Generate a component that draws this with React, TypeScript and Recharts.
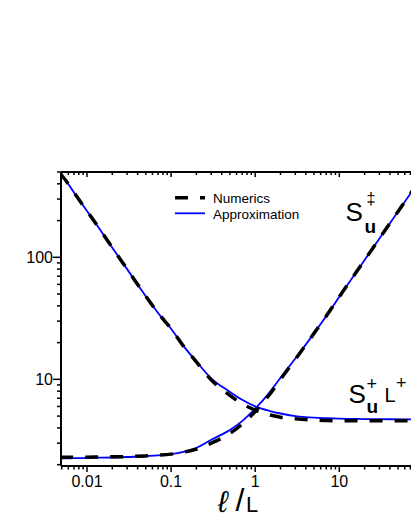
import { LineChart, Line, XAxis, YAxis } from 'recharts';

// values
const xs = [0.0048, 0.0052, 0.007, 0.01, 0.014, 0.02, 0.03, 0.05, 0.07, 0.1, 0.14, 0.2, 0.3, 0.5, 0.7, 1, 1.5, 2, 3, 5, 7, 10, 20, 40, 75];
const approxDown = [485, 455, 340, 240, 172, 120, 80, 48, 35, 26, 18.8, 14, 10.2, 7.9, 6.8, 6.0, 5.5, 5.25, 5.0, 4.85, 4.8, 4.76, 4.73, 4.71, 4.7];
const numericsDown = [485, 455, 340, 240, 172, 120, 80, 48, 35, 26, 18.8, 13.9, 9.9, 7.4, 6.3, 5.6, 5.1, 4.9, 4.75, 4.63, 4.6, 4.58, 4.57, 4.57, 4.57];
const approxUp = [2.25, 2.25, 2.26, 2.27, 2.28, 2.29, 2.31, 2.35, 2.38, 2.44, 2.55, 2.75, 3.2, 3.85, 4.55, 5.75, 7.9, 10.3, 14.8, 23.8, 33, 47.5, 95, 190, 356];
const numericsUp = [2.3, 2.3, 2.3, 2.3, 2.31, 2.32, 2.33, 2.36, 2.39, 2.44, 2.53, 2.68, 3.0, 3.6, 4.3, 5.45, 7.6, 10.0, 14.6, 23.8, 33, 47.5, 95, 190, 356];

const xTicks = [0.005, 0.006, 0.007, 0.008, 0.009, 0.01, 0.02, 0.03, 0.04, 0.05, 0.06, 0.07, 0.08, 0.09, 0.1, 0.2, 0.3, 0.4, 0.5, 0.6, 0.7, 0.8, 0.9, 1, 2, 3, 4, 5, 6, 7, 8, 9, 10, 20, 30, 40, 50, 60, 70];
const xMajor = [0.01, 0.1, 1, 10];
const yTicks = [2, 3, 4, 5, 6, 7, 8, 9, 10, 20, 30, 40, 50, 60, 70, 80, 90, 100, 200, 300, 400, 500];
const yMajor = [10, 100];

const rows = xs.map((x, i) => ({
  x,
  aDown: approxDown[i],
  nDown: numericsDown[i],
  aUp: approxUp[i],
  nUp: numericsUp[i],
}));

const font = '"Liberation Sans", Arial, sans-serif';
const BLUE = '#0000ff';
const DASH = '13 12';

function YTick(props: any) {
  const { x, y, payload } = props;
  const major = yMajor.includes(payload.value);
  const len = major ? 8 : 4;
  return (
    <g>
      <line x1={x} x2={x - len} y1={y} y2={y} stroke="#000" strokeWidth={1.5} />
      {major && (
        <text x={x - len} y={y} dy="0.36em" textAnchor="end" fontSize={16} fontFamily={font} fill="#000">
          {payload.value}
        </text>
      )}
    </g>
  );
}

function XTickBottom(props: any) {
  const { x, y, payload } = props;
  const major = xMajor.includes(payload.value);
  const len = major ? 6 : 3.5;
  return (
    <g>
      <line x1={x} x2={x} y1={y} y2={y + len} stroke="#000" strokeWidth={1.5} />
      {major && (
        <text x={x} y={y + 21} textAnchor="middle" fontSize={16} fontFamily={font} fill="#000">
          {payload.value}
        </text>
      )}
    </g>
  );
}

function XTickTop(props: any) {
  const { x, y, payload } = props;
  const len = xMajor.includes(payload.value) ? 5 : 3;
  return <line x1={x} x2={x} y1={y} y2={y + len} stroke="#000" strokeWidth={1.5} />;
}

export default function App() {
  const axisLine = { stroke: '#000', strokeWidth: 2 };
  return (
    <div style={{ position: 'absolute', left: 8, top: 8, width: 403, height: 512 }}>
      <LineChart width={403} height={500} data={rows} margin={{ top: 154, right: 0, bottom: 12, left: 0 }}>
        <XAxis
          xAxisId="b" dataKey="x" type="number" scale="log" domain={[0.00491, 71.2]} allowDataOverflow
          ticks={xTicks} interval={0} tick={<XTickBottom />} tickLine={false} tickSize={0} tickMargin={0}
          height={30} axisLine={axisLine}
        />
        <XAxis
          xAxisId="t" orientation="top" dataKey="x" type="number" scale="log" domain={[0.00491, 71.2]} allowDataOverflow
          ticks={xTicks} interval={0} tick={<XTickTop />} tickLine={false} tickSize={0} tickMargin={0}
          height={10} axisLine={axisLine}
        />
        <YAxis
          type="number" scale="log" domain={[1.95, 500]} allowDataOverflow
          ticks={yTicks} interval={0} tick={<YTick />} tickLine={false} tickSize={0} tickMargin={0}
          width={53} axisLine={axisLine}
        />
        <Line xAxisId="b" type="monotone" dataKey="aDown" stroke={BLUE} strokeWidth={1.8} dot={false} isAnimationActive={false} />
        <Line xAxisId="b" type="monotone" dataKey="aUp" stroke={BLUE} strokeWidth={1.8} dot={false} isAnimationActive={false} />
        <Line xAxisId="b" type="monotone" dataKey="nDown" stroke="#000" strokeWidth={3.5} strokeDasharray={DASH} dot={false} isAnimationActive={false} />
        <Line xAxisId="b" type="monotone" dataKey="nUp" stroke="#000" strokeWidth={3.5} strokeDasharray={DASH} dot={false} isAnimationActive={false} />
      </LineChart>

      {/* legend, curve labels and axis title, drawn in page coordinates */}
      <svg width={403} height={512} style={{ position: 'absolute', left: 0, top: 0, pointerEvents: 'none' }} fontFamily={font}>
        <g transform="translate(-8,-8)">
          <line x1={175} x2={205} y1={197.7} y2={197.7} stroke="#000" strokeWidth={3.5} strokeDasharray={DASH} />
          <text x={213} y={203} fontSize={13.5} fill="#000">Numerics</text>
          <line x1={175} x2={205} y1={213.3} y2={213.3} stroke={BLUE} strokeWidth={1.8} />
          <text x={213} y={218.5} fontSize={13.5} fill="#000">Approximation</text>

          <text x={345.5} y={221} fontSize={26} fill="#000">S</text>
          <text x={366.5} y={204} fontSize={16} fill="#000">‡</text>
          <text x={364.5} y={233} fontSize={19} fontWeight="bold" fill="#000">u</text>

          <text x={348.5} y={403} fontSize={26} fill="#000">S</text>
          <text x={366.5} y={390} fontSize={18} fill="#000">+</text>
          <text x={366.5} y={413} fontSize={19} fontWeight="bold" fill="#000">u</text>
          <text x={384.5} y={402} fontSize={20} fill="#000">L</text>
          <text x={396} y={389} fontSize={18} fill="#000">+</text>

          <text x={218} y={512} fontSize={30} fontStyle="italic" fill="#000">ℓ</text>
          <text x={235.5} y={511} fontSize={32} fill="#000">/</text>
          <text x={246} y={512} fontSize={22} fill="#000">L</text>
        </g>
      </svg>
    </div>
  );
}
